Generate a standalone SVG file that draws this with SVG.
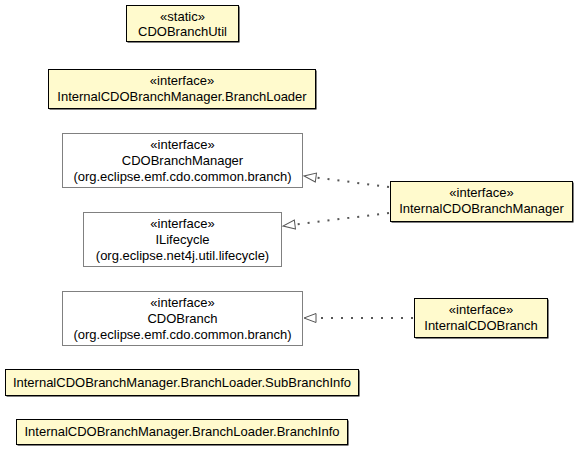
<svg xmlns="http://www.w3.org/2000/svg" width="579" height="449" viewBox="0 0 579 449">
<style>
text{font-family:"Liberation Sans",Arial,sans-serif;font-size:13px;fill:#000;text-anchor:middle}
.y{fill:#FFFACD;stroke:#000;stroke-width:1}
.sh{fill:#000}
.g{fill:#fff;stroke:#808080;stroke-width:1}
.c{fill:none;stroke:#555;stroke-width:2;stroke-dasharray:2,8}
.ah{fill:#fff;stroke:#555;stroke-width:1}
</style>
<defs>
<marker id="tri" markerWidth="15" markerHeight="12" refX="13" refY="6" orient="auto" markerUnits="userSpaceOnUse">
<path d="M1,1.5 L13,6 L1,10.5 Z" class="ah"/>
</marker>
</defs>
<rect width="579" height="449" fill="#fff"/>
<g id="CDOBranchUtil">
<rect class="sh" x="127.5" y="6.5" width="112" height="36"/>
<rect class="y" x="126.5" y="5.5" width="112" height="36"/>
<text x="182.5" y="21">«static»</text>
<text x="182.5" y="36">CDOBranchUtil</text>
</g>
<g id="BranchLoader">
<rect class="sh" x="49.5" y="70.5" width="267" height="39"/>
<rect class="y" x="48.5" y="69.5" width="267" height="39"/>
<text x="182" y="85">«interface»</text>
<text x="182" y="101">InternalCDOBranchManager.BranchLoader</text>
</g>
<g id="CDOBranchManager">
<rect class="g" x="62.5" y="133.5" width="240" height="54"/>
<text x="182.5" y="149">«interface»</text>
<text x="182.5" y="165">CDOBranchManager</text>
<text x="182.5" y="181">(org.eclipse.emf.cdo.common.branch)</text>
</g>
<g id="ILifecycle">
<rect class="g" x="83.5" y="212.5" width="198" height="54"/>
<text x="182.5" y="228">«interface»</text>
<text x="182.5" y="244">ILifecycle</text>
<text x="182.5" y="260">(org.eclipse.net4j.util.lifecycle)</text>
</g>
<g id="InternalCDOBranchManager">
<rect class="sh" x="391.5" y="182.5" width="182" height="40"/>
<rect class="y" x="390.5" y="181.5" width="182" height="40"/>
<text x="481.5" y="197">«interface»</text>
<text x="481.5" y="213">InternalCDOBranchManager</text>
</g>
<g id="CDOBranch">
<rect class="g" x="62.5" y="291.5" width="240" height="54"/>
<text x="182.5" y="307">«interface»</text>
<text x="182.5" y="323">CDOBranch</text>
<text x="182.5" y="339">(org.eclipse.emf.cdo.common.branch)</text>
</g>
<g id="InternalCDOBranch">
<rect class="sh" x="415.5" y="299.5" width="133" height="39"/>
<rect class="y" x="414.5" y="298.5" width="133" height="39"/>
<text x="481" y="314">«interface»</text>
<text x="481" y="330">InternalCDOBranch</text>
</g>
<g id="SubBranchInfo">
<rect class="sh" x="6.5" y="370.5" width="353" height="26"/>
<rect class="y" x="5.5" y="369.5" width="353" height="26"/>
<text x="182" y="387">InternalCDOBranchManager.BranchLoader.SubBranchInfo</text>
</g>
<g id="BranchInfo">
<rect class="sh" x="17.5" y="420.5" width="331" height="25"/>
<rect class="y" x="16.5" y="419.5" width="331" height="25"/>
<text x="182" y="436">InternalCDOBranchManager.BranchLoader.BranchInfo</text>
</g>
<g id="connectors">
<path class="c" d="M389,187 L304,176" marker-end="url(#tri)"/>
<path class="c" d="M389,213 L283,226" marker-end="url(#tri)"/>
<path class="c" d="M413,318 L304,318" marker-end="url(#tri)"/>
</g>
</svg>
